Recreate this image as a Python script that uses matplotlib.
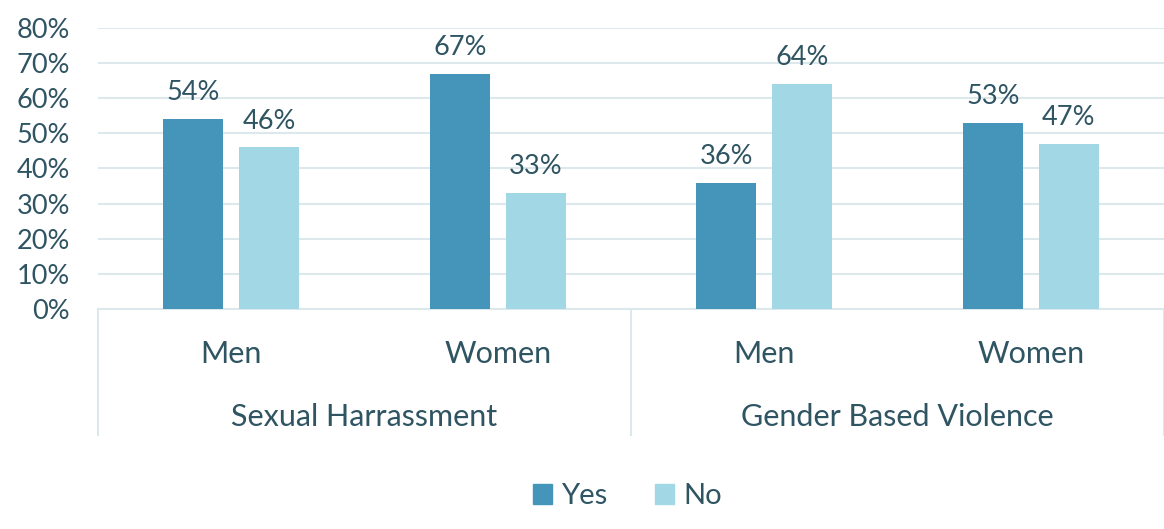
import numpy as np
import matplotlib.pyplot as plt
import matplotlib.transforms as mtrans
from matplotlib.patches import Patch

plt.rcParams['font.family'] = ['Lato', 'DejaVu Sans']

categories = ["Men", "Women", "Men", "Women"]
groups = ["Sexual Harrassment", "Gender Based Violence"]
yes_vals = [0.54, 0.67, 0.36, 0.53]
no_vals = [0.46, 0.33, 0.64, 0.47]

yes_col = "#4595BA"
no_col = "#A2D8E5"
txt_col = "#2F5462"
grid_col = "#DCE8EC"

fig = plt.figure(figsize=(11.64, 5.29), dpi=100)
ax = fig.add_axes([0.0842, 0.416, 0.9158, 0.531])

x = np.arange(len(categories))
w = 0.225
b1 = ax.bar(x - 0.142, yes_vals, w, color=yes_col, label="Yes", zorder=3)
b2 = ax.bar(x + 0.142, no_vals, w, color=no_col, label="No", zorder=3)

for bars, vals in [(b1, yes_vals), (b2, no_vals)]:
    for r, v in zip(bars, vals):
        ax.annotate("%d%%" % round(v * 100), (r.get_x() + r.get_width() / 2, v),
                    xytext=(0, 10), textcoords="offset points", ha="center", va="bottom",
                    fontsize=19.5, color=txt_col)

ax.set_xlim(-0.5, 3.5)
ax.set_ylim(0, 0.8)
ax.set_yticks(np.arange(0, 0.81, 0.1))
ax.set_yticklabels(["%d%%" % t for t in range(0, 81, 10)], fontsize=19.5, color=txt_col)
ax.tick_params(axis="y", length=0, pad=20)
ax.tick_params(axis="x", length=0, labelbottom=False)
ax.yaxis.grid(True, color=grid_col, linewidth=1.5, zorder=0)
for s in ["top", "right", "left"]:
    ax.spines[s].set_visible(False)
ax.spines["bottom"].set_color(grid_col)
ax.spines["bottom"].set_linewidth(1.5)

# group separators and two-level category labels
trans = mtrans.blended_transform_factory(ax.transData, ax.transAxes)
for xs in [-0.5, 1.5, 3.5]:
    ax.plot([xs, xs], [0, -0.448], transform=trans, color=grid_col, lw=1.5, clip_on=False)
for i, c in enumerate(categories):
    ax.text(i, -0.16, c, transform=trans, ha="center", va="center", fontsize=22, color=txt_col)
for j, g in enumerate(groups):
    ax.text(2 * j + 0.5, -0.385, g, transform=trans, ha="center", va="center", fontsize=22, color=txt_col)

handles = [Patch(color=yes_col, label="Yes"), Patch(color=no_col, label="No")]
fig.legend(handles=handles, loc="center", bbox_to_anchor=(0.539, 0.062), ncol=2, frameon=False,
           fontsize=21, labelcolor=txt_col, handlelength=0.65, handleheight=0.65,
           handletextpad=0.3, columnspacing=1.65)

plt.savefig("out.png", dpi=100)
